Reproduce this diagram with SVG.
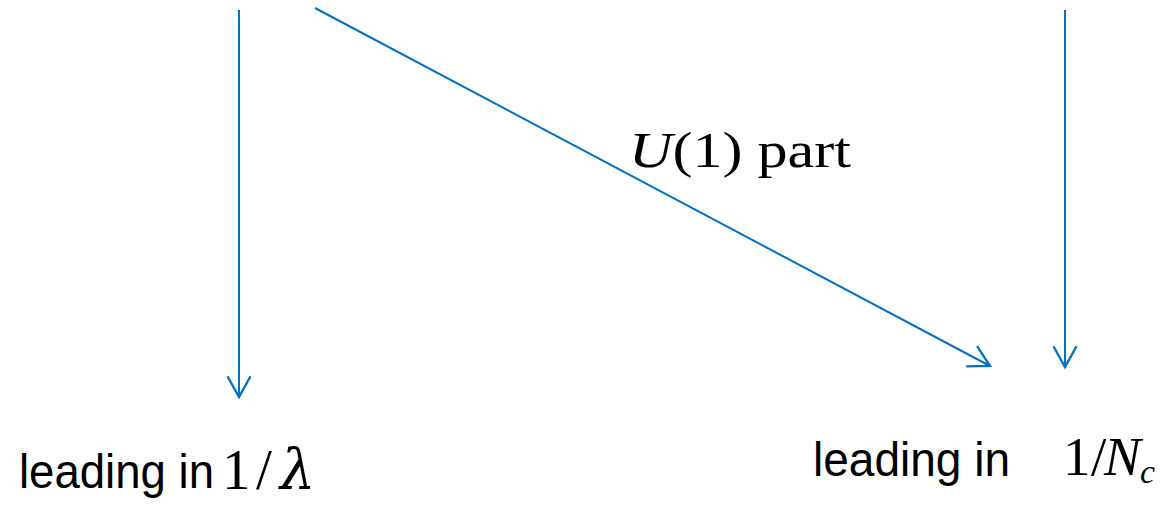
<svg xmlns="http://www.w3.org/2000/svg" width="1162" height="507" viewBox="0 0 1162 507">
<style>
.c{stroke:#0070C0;stroke-width:2;fill:none}
.t{font-family:"Liberation Sans","DejaVu Sans",sans-serif;font-size:48px;fill:#000}
.m{font-family:"Liberation Serif","DejaVu Serif",serif;fill:#000}
.i{font-style:italic}
</style>
<defs>
<marker id="ah" markerUnits="userSpaceOnUse" markerWidth="30" markerHeight="30" viewBox="-22 -12 26 24" refX="0" refY="0" orient="auto">
<path d="M-18,-10 L0,0 L-18,10" stroke="#0070C0" stroke-width="2" fill="none"/>
</marker>
</defs>
<g id="connectors">
<line class="c" x1="239" y1="10" x2="239" y2="397" marker-end="url(#ah)"/>
<line class="c" x1="315" y1="8" x2="990" y2="366" marker-end="url(#ah)"/>
<line class="c" x1="1065" y1="10" x2="1065" y2="367" marker-end="url(#ah)"/>
</g>
<g id="label-u1">
<text class="m" x="629" y="167" font-size="50" textLength="222" lengthAdjust="spacingAndGlyphs"><tspan class="i">U</tspan>(1) part</text>
</g>
<g id="node-left">
<text class="t" x="19" y="488" textLength="195" lengthAdjust="spacingAndGlyphs">leading in</text>
<text class="m" y="489" font-size="57"><tspan x="222">1</tspan><tspan x="256">/</tspan><tspan x="280" class="i" font-family="'DejaVu Serif','Liberation Serif',serif" font-size="56">λ</tspan></text>
</g>
<g id="node-right">
<text class="t" x="813" y="476" textLength="197" lengthAdjust="spacingAndGlyphs">leading in</text>
<text class="m" y="475" font-size="55"><tspan x="1063">1</tspan><tspan x="1091">/</tspan><tspan x="1104" class="i">N</tspan><tspan x="1140" dy="8" class="i" font-size="34">c</tspan></text>
</g>
</svg>
